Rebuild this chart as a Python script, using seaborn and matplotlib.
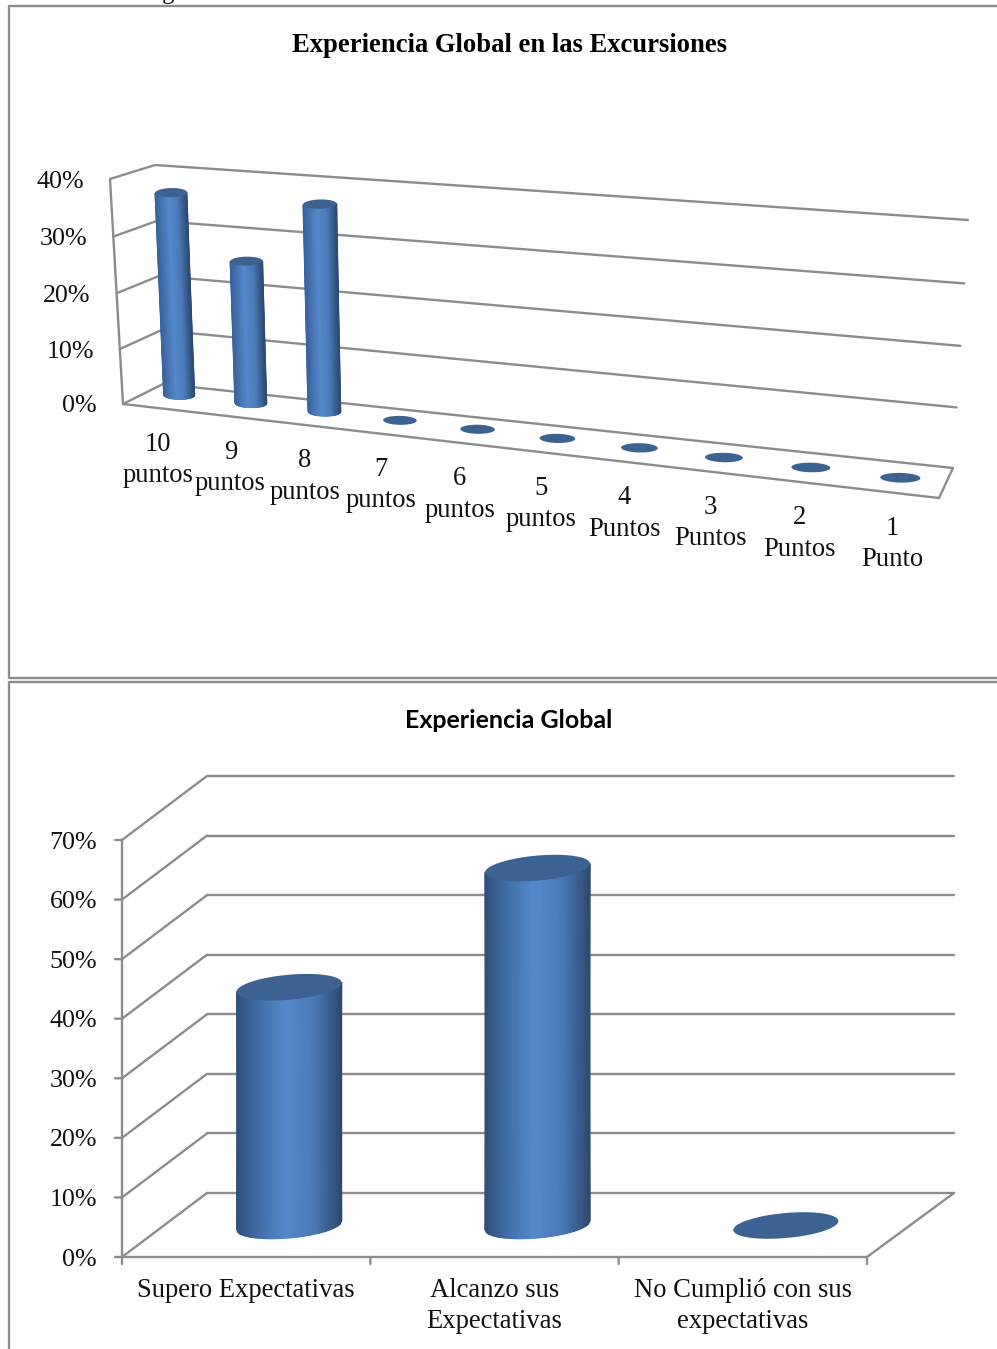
import numpy as np
import pandas as pd
import matplotlib
matplotlib.use("Agg")
import matplotlib.pyplot as plt
from matplotlib.colors import LinearSegmentedColormap
from matplotlib.path import Path
from matplotlib.transforms import Affine2D, Transform
import seaborn as sns

# ---- data ----
score_labels = ["10\npuntos", "9\npuntos", "8\npuntos", "7\npuntos", "6\npuntos",
                "5\npuntos", "4\nPuntos", "3\nPuntos", "2\nPuntos", "1\nPunto"]
score_values = [36.5, 25.5, 36.5, 0, 0, 0, 0, 0, 0, 0]
score_ticks = [0, 10, 20, 30, 40]

outcome_labels = ["Supero Expectativas", "Alcanzo sus\nExpectativas",
                  "No Cumplió con sus\nexpectativas"]
outcome_values = [40, 60, 0]
outcome_ticks = [0, 10, 20, 30, 40, 50, 60, 70]

title_scores = "Experiencia Global en las Excursiones"
title_outcomes = "Experiencia Global"

# ---- style ----
W, H, DPI = 997, 1349, 100
SERIF = "Liberation Serif"
LINE = "#8c8c8c"
CAP = "#3b6291"
TEXT = "#111111"
LW = 1.7
TICK_PT = 18.7
LABEL_PT = 19.2

sns.set_style("white")
fig = plt.figure(figsize=(W / DPI, H / DPI), dpi=DPI, facecolor="white")
pixel_tf = Affine2D().scale(1 / DPI, -1 / DPI).translate(0, H / DPI) + fig.dpi_scale_trans

slim_cmap = LinearSegmentedColormap.from_list(
    "slim_cylinder", [(0, "#38639a"), (0.42, "#5589cc"), (0.72, "#4a79b6"), (1, "#2c4b72")])
wide_cmap = LinearSegmentedColormap.from_list(
    "wide_cylinder", [(0, "#2e5079"), (0.25, "#4573ad"), (0.47, "#5589cc"),
                      (0.75, "#4a78b4"), (1, "#2c4a70")])


class PlaneTransform(Transform):
    """Perspective map from a chart plane (category, value) to page pixels."""
    input_dims = output_dims = 2
    is_separable = False

    def __init__(self, src, dst):
        super().__init__()
        rows, rhs = [], []
        for (x, y), (u, v) in zip(src, dst):
            rows.append([x, y, 1, 0, 0, 0, -u * x, -u * y])
            rows.append([0, 0, 0, x, y, 1, -v * x, -v * y])
            rhs += [u, v]
        self.m = np.append(np.linalg.solve(np.array(rows, float), np.array(rhs, float)), 1).reshape(3, 3)

    def transform_non_affine(self, values):
        pts = np.asarray(values, float)
        hom = np.column_stack([pts, np.ones(len(pts))]) @ self.m.T
        return hom[:, :2] / hom[:, 2:]


def plane(n, top, corners):
    src = [(-0.5, 0), (n - 0.5, 0), (n - 0.5, top), (-0.5, top)]
    return PlaneTransform(src, corners)


def draw_bars(ax, skin, values, width, plane_tf, cap_b, cap_s, cmap):
    """Seaborn bars re-projected onto the mid plane, shaded as cylinders on a top layer."""
    frame = pd.DataFrame({"posicion": np.arange(len(values)), "valor": values})
    sns.barplot(data=frame, x="posicion", y="valor", width=width, color="#5589cc",
                saturation=1, ax=ax, zorder=3)
    tf = plane_tf + pixel_tf
    for patch in ax.containers[0]:
        x0, w, val = patch.get_x(), patch.get_width(), patch.get_height()
        xc = x0 + w / 2
        u = np.linspace(-1, 1, 61)
        xs = xc + u * w / 2
        lower = -cap_b * np.sqrt(1 - u ** 2) + cap_s * u
        upper = val + cap_s * u
        patch.set_transform(tf)
        outline = np.vstack([np.column_stack([xs, lower]),
                             np.column_stack([xs[::-1], upper[::-1]])])
        patch.set_clip_path(Path(outline), tf)
        patch.set_edgecolor("none")
        if val > 0:
            skin.pcolormesh(np.vstack([xs, xs]), np.vstack([lower, upper]),
                            np.vstack([(u + 1) / 2, (u + 1) / 2]), cmap=cmap,
                            vmin=0, vmax=1, shading="gouraud", transform=tf, zorder=4)
        t = np.linspace(0, 2 * np.pi, 90)
        skin.fill(xc + w / 2 * np.cos(t), val + cap_b * np.sin(t) + cap_s * np.cos(t),
                  color=CAP, lw=0, transform=tf, zorder=5)


def connector(ax, tf_a, tf_b, pa, pb):
    a, b = tf_a.transform([pa])[0], tf_b.transform([pb])[0]
    ax.plot([a[0], b[0]], [a[1], b[1]], color=LINE, lw=LW, transform=pixel_tf,
            solid_capstyle="round", zorder=2)


def draw_walls(ax, n, ticks, front, back):
    left, right = -0.5, n - 0.5
    for v in ticks:
        ax.plot([left, right], [v, v], color=LINE, lw=LW, transform=back + pixel_tf,
                solid_capstyle="round", zorder=2)
        connector(ax, front, back, (left, v), (left, v))
    ax.plot([left, left], [ticks[0], ticks[-1]], color=LINE, lw=LW,
            transform=front + pixel_tf, zorder=2)
    ax.plot([left, right], [0, 0], color=LINE, lw=LW, transform=front + pixel_tf,
            solid_capstyle="round", zorder=2)
    connector(ax, front, back, (right, 0), (right, 0))


def draw_labels(ax, ticks, labels, front, tick_gap, label_drop):
    tf = front + pixel_tf
    for v in ticks:
        ax.annotate(f"{v}%", xy=(-0.5, v), xycoords=tf, xytext=(-tick_gap, 0),
                    textcoords="offset pixels", ha="right", va="center_baseline",
                    family=SERIF, fontsize=TICK_PT, color=TEXT)
    for i, lab in enumerate(labels):
        ax.annotate(lab, xy=(i, 0), xycoords=tf, xytext=(0, -label_drop),
                    textcoords="offset pixels", ha="center", va="top", ma="center",
                    family=SERIF, fontsize=LABEL_PT, color=TEXT, linespacing=1.33)


def chart_axes(top, bottom, z):
    ax = fig.add_axes([0, 1 - bottom / H, 1, (bottom - top) / H], zorder=z)
    ax.patch.set_visible(False)
    return ax


def finish(ax, n, top):
    ax.set_xlim(-0.5, n - 0.5)
    ax.set_ylim(0, top)
    ax.axis("off")


# ---- page background: chart frames and the clipped line of text above them ----
page = fig.add_axes([0, 0, 1, 1], zorder=0)
page.set_xlim(0, W)
page.set_ylim(H, 0)
page.axis("off")
page.plot([W, 9, 9, W], [6, 6, 678, 678], color=LINE, lw=LW)
page.plot([W, 9, 9], [682, 682, H], color=LINE, lw=LW)
page.text(168, -1, "g", family=SERIF, fontsize=18, ha="center", va="baseline",
          color=TEXT, clip_on=False)
page.text(509.5, 45, title_scores, family=SERIF, weight="bold", fontsize=19.2,
          ha="center", va="center", color="black")
page.text(509, 721, title_outcomes, family="Lato", weight="bold", fontsize=18,
          ha="center", va="center", color="black")

# ---- upper chart: scores 10 to 1, seen in strong perspective ----
n1, top1 = len(score_labels), score_ticks[-1]
back1 = plane(n1, top1, [(163, 384), (953, 468), (968, 220), (155, 165)])
front1 = plane(n1, top1, [(123, 404), (939, 498), (954, 238), (110, 179)])
mid1 = plane(n1, top1, [(144, 391), (946, 483), (961, 231), (134, 170)])
ax1, skin1 = chart_axes(6, 678, 1), chart_axes(6, 678, 2)
draw_walls(ax1, n1, score_ticks, front1, back1)
draw_bars(ax1, skin1, score_values, 0.44, mid1, 0.8, 0.3, slim_cmap)
draw_labels(skin1, score_ticks, score_labels, front1, 26, 23.5)
finish(ax1, n1, top1)
finish(skin1, n1, top1)

# ---- lower chart: expectations, oblique view ----
n2, top2 = len(outcome_labels), outcome_ticks[-1]
back2 = plane(n2, top2, [(207, 1193), (954, 1193), (954, 776), (207, 776)])
front2 = plane(n2, top2, [(122, 1257), (867, 1257), (867, 840), (122, 840)])
mid2 = plane(n2, top2, [(165, 1225.5), (910, 1225.5), (910, 808.5), (165, 808.5)])
ax2, skin2 = chart_axes(682, H, 1), chart_axes(682, H, 2)
draw_walls(ax2, n2, outcome_ticks, front2, back2)
draw_bars(ax2, skin2, outcome_values, 0.423, mid2, 2.1, 0.75, wide_cmap)
draw_labels(skin2, outcome_ticks, outcome_labels, front2, 25, 21)
tf2 = front2 + pixel_tf
for v in outcome_ticks:
    skin2.annotate("", xy=(-0.5, v), xycoords=tf2, xytext=(-7, 0), textcoords="offset pixels",
                   arrowprops=dict(arrowstyle="-", color=LINE, lw=LW, shrinkA=0, shrinkB=0))
for i in range(n2 + 1):
    skin2.annotate("", xy=(i - 0.5, 0), xycoords=tf2, xytext=(0, -7), textcoords="offset pixels",
                   arrowprops=dict(arrowstyle="-", color=LINE, lw=LW, shrinkA=0, shrinkB=0))
finish(ax2, n2, top2)
finish(skin2, n2, top2)

fig.savefig("out.png", dpi=DPI, facecolor="white")
